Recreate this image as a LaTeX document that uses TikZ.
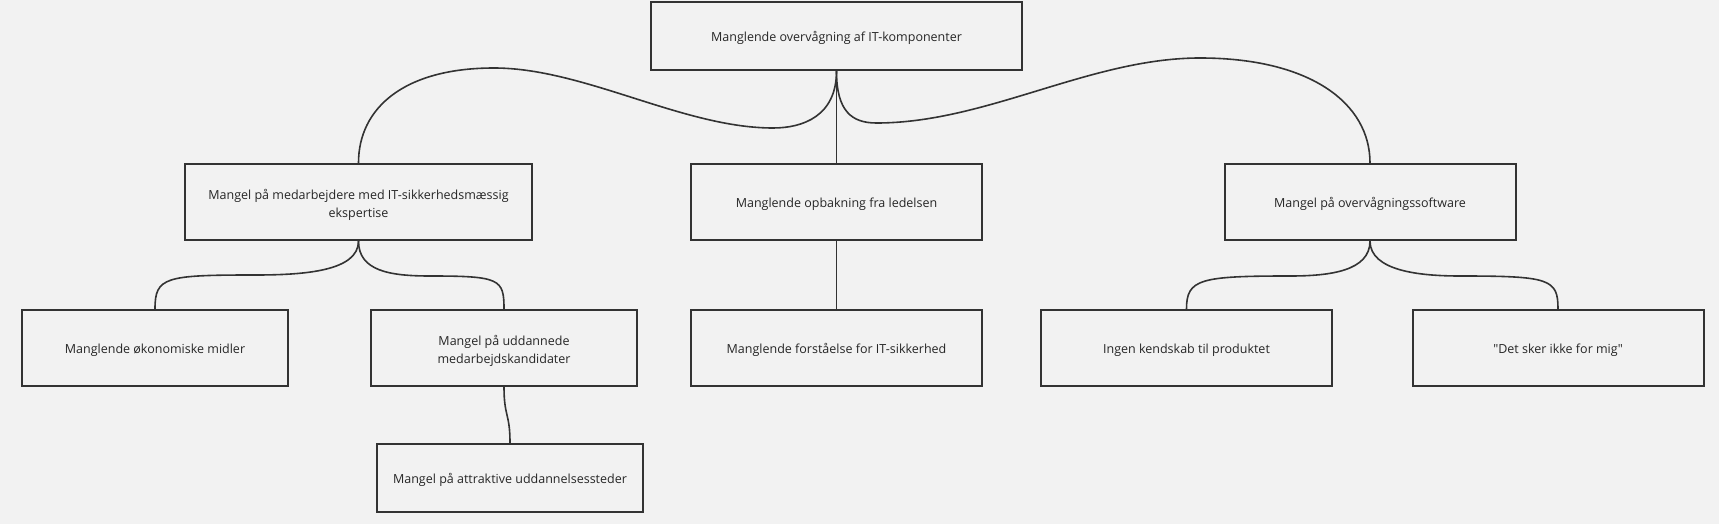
\documentclass[tikz,border=0pt]{standalone}
\usepackage{fontspec}
\setmainfont{Open Sans}
\usepackage{tikz}
\usetikzlibrary{calc,positioning}
\definecolor{bgc}{HTML}{F2F2F2}
\definecolor{ink}{HTML}{333333}
\definecolor{txt}{HTML}{262626}
\tikzstyle{cause}=[rectangle,draw=ink,line width=2pt,align=center,text=txt,
  font=\fontsize{12.5}{18}\selectfont,minimum width=291pt,minimum height=76pt,inner sep=0pt,
  execute at begin node={\rule{0pt}{15pt}},execute at end node={\rule[-4pt]{0pt}{4pt}}]
\tikzstyle{twoline}=[execute at begin node={\rule{0pt}{34pt}}]
\tikzstyle{link}=[draw=ink,line width=1.6pt]

\begin{document}
\begin{tikzpicture}[x=1pt,y=-1pt]
  \fill[bgc] (0,0) rectangle (1719,524);
  \useasboundingbox (0,0) rectangle (1719,524);
  % top problem
  \node[cause,minimum width=371pt,minimum height=68pt] (top) at (836.5,36)
    {Manglende overvågning af IT-komponenter};
  % causes
  \node[cause,twoline,minimum width=347pt] (med) at (358.5,202)
    {Mangel på medarbejdere med IT-sikkerhedsmæssig\\ekspertise};
  \node[cause] (opb) at (836.5,202) {Manglende opbakning fra ledelsen};
  \node[cause] (sw) at (1370,202) {Mangel på overvågningssoftware};
  % sub-causes
  \node[cause,minimum width=266pt] (oko) at (155,348) {Manglende økonomiske midler};
  \node[cause,twoline,minimum width=266pt] (udd) at (504,348)
    {Mangel på uddannede\\medarbejdskandidater};
  \node[cause] (forst) at (836.5,348) {Manglende forståelse for IT-sikkerhed};
  \node[cause] (kend) at (1186.5,348) {Ingen kendskab til produktet};
  \node[cause] (mig) at (1558,348) {\textquotedbl Det sker ikke for mig\textquotedbl};
  \node[cause,minimum width=266pt,minimum height=68pt] (attr) at (510,478)
    {Mangel på attraktive uddannelsessteder};

  \draw[link] (top.south) .. controls +(0,45) and +(30,0) .. (773,128)
    .. controls +(-90,0) and +(90,0) .. (494,68)
    .. controls +(-90,0) and +(0,-55) .. (med.north);
  \draw[link] (top.south) .. controls +(0,40) and +(-25,0) .. (876.5,123)
    .. controls +(110,0) and +(-110,0) .. (1200,58)
    .. controls +(110,0) and +(0,-60) .. (sw.north);
  \draw[link] (top.south) -- (opb.north);
  \draw[link] (opb.south) -- (forst.north);

  \draw[link] (med.south) .. controls +(0,30) and +(50,0) .. (255,275)
    .. controls +(-90,0) and +(0,-32) .. (oko.north);
  \draw[link] (med.south) .. controls +(0,30) and +(-40,0) .. (430,276)
    .. controls +(70,0) and +(0,-30) .. (udd.north);
  \draw[link] (sw.south) .. controls +(0,30) and +(40,0) .. (1290,276)
    .. controls +(-90,0) and +(0,-30) .. (kend.north);
  \draw[link] (sw.south) .. controls +(0,30) and +(-40,0) .. (1460,276)
    .. controls +(90,0) and +(0,-30) .. (mig.north);
  \draw[link] (udd.south) .. controls +(0,30) and +(0,-30) .. (attr.north);
\end{tikzpicture}
\end{document}
